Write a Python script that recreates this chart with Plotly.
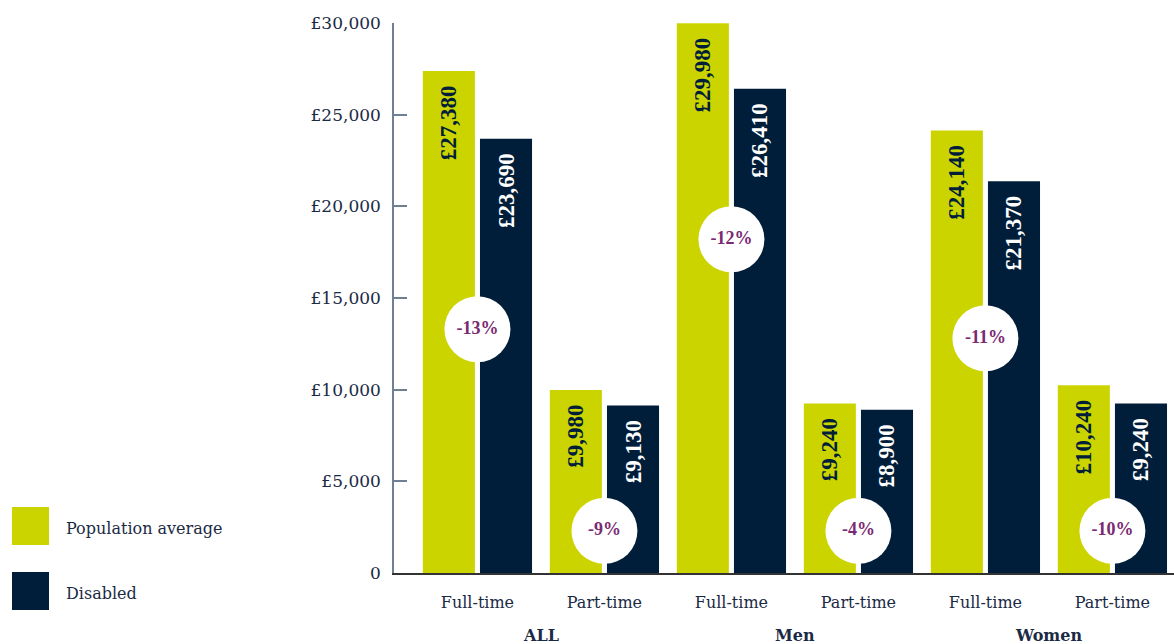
import plotly.graph_objects as go

# ---- data ----
work_types = ["Full-time", "Part-time", "Full-time", "Part-time", "Full-time", "Part-time"]
groups = ["ALL", "Men", "Women"]
population_avg = [27380, 9980, 29980, 9240, 24140, 10240]
disabled = [23690, 9130, 26410, 8900, 21370, 9240]
y_ticks = [0, 5000, 10000, 15000, 20000, 25000, 30000]
y_tick_labels = ["0", "£5,000", "£10,000", "£15,000", "£20,000", "£25,000", "£30,000"]

# layout-only: vertical placement of the gap badges
badge_height = [13300, 2300, 18200, 2300, 12800, 2300]

YELLOW = "#ccd400"
NAVY = "#001e3a"
TEXT = "#1b2a44"
PURPLE = "#7a2a72"
FONT = "DejaVu Serif"
VFONT = "Liberation Serif"

x = list(range(len(work_types)))
gaps = [f"{round((d - p) / p * 100)}%" for d, p in zip(disabled, population_avg)]
PAD = "\u00a0\u00a0"

fig = go.Figure()
fig.add_trace(go.Bar(
    x=x, y=population_avg, name="Population average",
    marker=dict(color=YELLOW, line=dict(width=0)),
    width=0.41, offset=-0.43,
    text=[f"£{v:,}{PAD}" for v in population_avg],
    textposition="inside", insidetextanchor="end", textangle=-90,
    textfont=dict(family=VFONT, size=23, color=NAVY, weight="bold"),
    constraintext="none", cliponaxis=False,
))
fig.add_trace(go.Bar(
    x=x, y=disabled, name="Disabled",
    marker=dict(color=NAVY, line=dict(width=0)),
    width=0.41, offset=0.02,
    text=[f"£{v:,}{PAD}" for v in disabled],
    textposition="inside", insidetextanchor="end", textangle=-90,
    textfont=dict(family=VFONT, size=23, color="white", weight="bold"),
    constraintext="none", cliponaxis=False,
))
fig.add_trace(go.Scatter(
    x=x, y=badge_height, mode="markers+text",
    marker=dict(size=66, color="white", line=dict(width=0)),
    text=gaps, textposition="middle center",
    textfont=dict(family=VFONT, size=18, color=PURPLE, weight="bold"),
    showlegend=False, hoverinfo="skip", cliponaxis=False,
))

fig.update_layout(
    width=1174, height=644,
    margin=dict(l=394, r=0, t=23, b=71),
    plot_bgcolor="white", paper_bgcolor="white",
    showlegend=False, barmode="overlay",
    font=dict(family=FONT, color=TEXT, size=16),
)
fig.update_xaxes(
    range=[-0.657, 5.485], tickvals=x, ticktext=work_types,
    showgrid=False, zeroline=False, showline=True, linecolor="#333333", linewidth=1.5,
    ticks="", ticklabelstandoff=14, tickfont=dict(family=FONT, size=16, color=TEXT),
)
fig.update_yaxes(
    range=[0, 30000], tickvals=y_ticks, ticktext=y_tick_labels,
    showgrid=False, zeroline=False, showline=True, linecolor="#6f8093", linewidth=1.5,
    ticks="inside", ticklen=13, tickcolor="#6f8093", tickwidth=1.5,
    ticklabelstandoff=8, tickfont=dict(family=FONT, size=17, color=TEXT),
)

# group labels
for gi, g in enumerate(groups):
    fig.add_annotation(
        x=gi * 2 + 0.5, y=-0.113, xref="x", yref="paper", text=f"<b>{g}</b>",
        showarrow=False, font=dict(family=FONT, size=16, color=TEXT),
        xanchor="center", yanchor="middle",
    )

# custom legend
W = 780.0
H = 550.0
def px_x(p):
    return (p - 394) / W
def px_y(p):
    return (573 - p) / H

for (name, color, top) in [("Population average", YELLOW, 507), ("Disabled", NAVY, 572)]:
    fig.add_shape(type="rect", xref="paper", yref="paper",
                  x0=px_x(12), x1=px_x(49), y0=px_y(top + 38), y1=px_y(top),
                  fillcolor=color, line=dict(width=0))
    fig.add_annotation(x=px_x(64), y=px_y(top + 21), xref="paper", yref="paper",
                       text=name, showarrow=False, xanchor="left", yanchor="middle",
                       font=dict(family=FONT, size=16, color=TEXT))

fig.write_html("out.html", config={"displayModeBar": False},
               post_script="document.body.style.margin='0';document.body.style.overflow='hidden';")
